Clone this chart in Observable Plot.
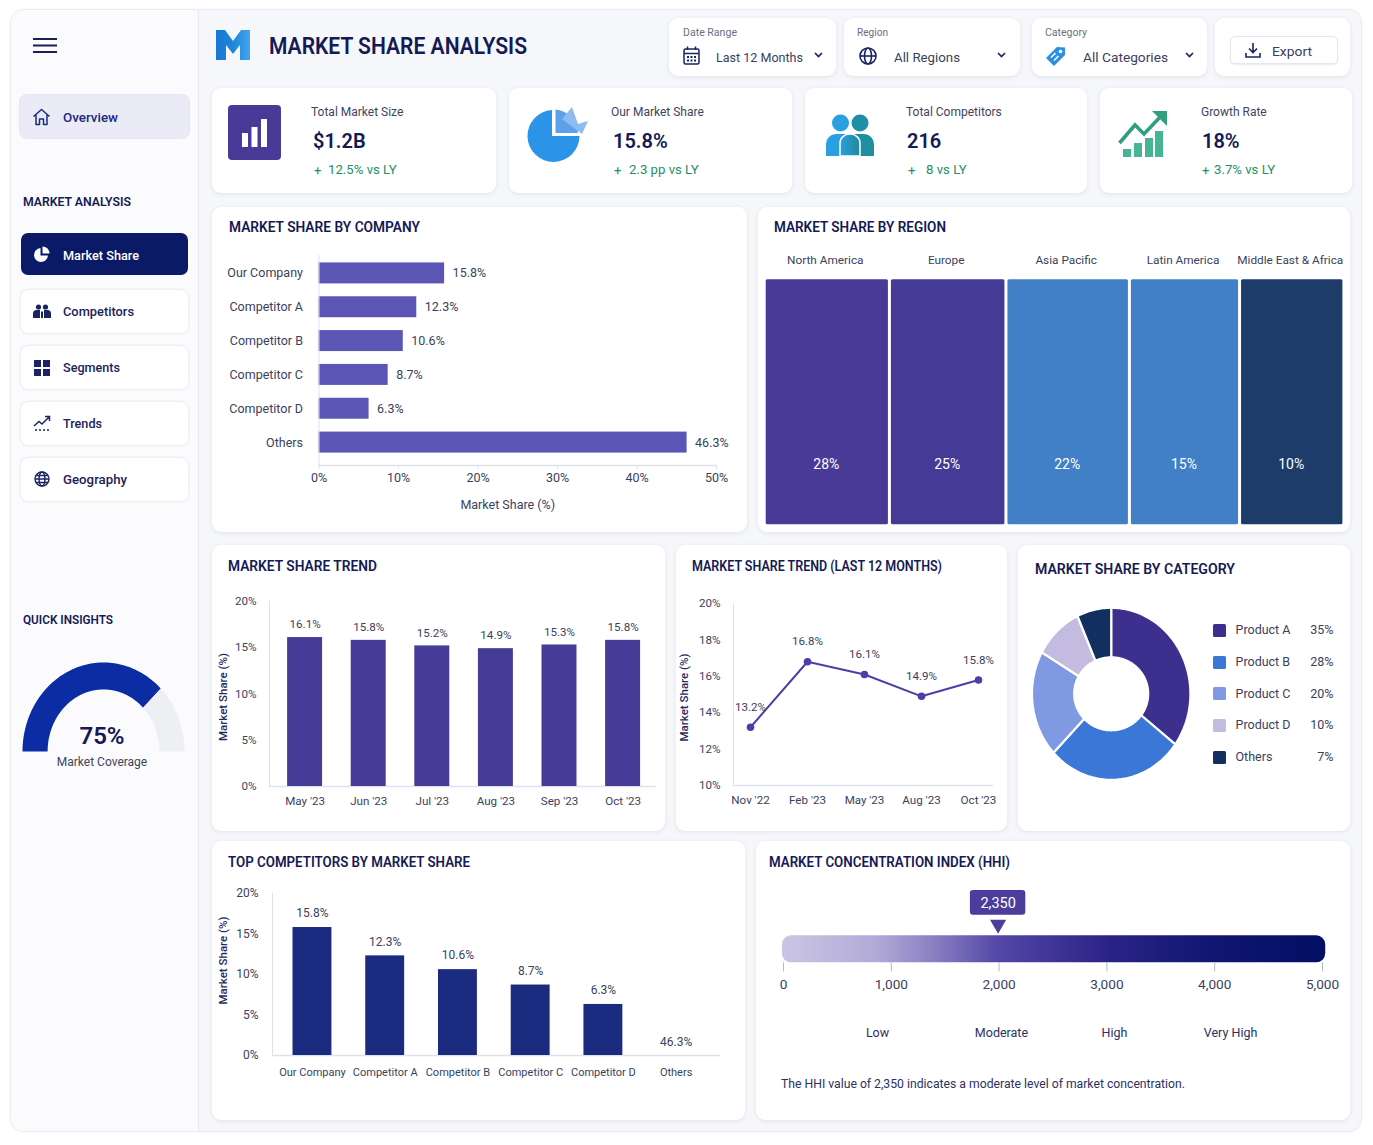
<!DOCTYPE html>
<html>
<head>
<meta charset="utf-8">
<script src="https://cdn.jsdelivr.net/npm/d3@7"></script>
<script src="https://cdn.jsdelivr.net/npm/@observablehq/plot@0.6"></script>
<style>
html,body{margin:0;padding:0;background:#fff;}
#root{position:relative;width:1373px;height:1145px;overflow:hidden;font-family:Roboto,sans-serif;color:#3a3f5e;}
.box{position:absolute;box-sizing:border-box;}
.card{position:absolute;box-sizing:border-box;background:#fff;border-radius:9px;box-shadow:0 1px 4px rgba(35,45,100,.10);}
.t{position:absolute;white-space:nowrap;line-height:1;}
#root svg.ic{position:absolute;overflow:visible;}
#root svg.plot{position:absolute;overflow:visible;background:transparent;}
</style>
</head>
<body>
<svg width="0" height="0" style="position:absolute">
  <defs>
    <linearGradient id="hhiGrad" x1="0" x2="1" y1="0" y2="0">
      <stop offset="0" stop-color="#cbc5e4"/>
      <stop offset=".17" stop-color="#b3abd8"/>
      <stop offset=".27" stop-color="#8d83c4"/>
      <stop offset=".4" stop-color="#5346a6"/>
      <stop offset=".6" stop-color="#2b2388"/>
      <stop offset=".8" stop-color="#0f1670"/>
      <stop offset="1" stop-color="#030f63"/>
    </linearGradient>
    <linearGradient id="logoL" x1="0" x2="1" y1="0" y2="0">
      <stop offset="0" stop-color="#1877d3"/><stop offset=".5" stop-color="#1f86dc"/><stop offset="1" stop-color="#45a5ee"/>
    </linearGradient>
    <linearGradient id="people" x1="0" x2="1" y1="0" y2="0">
      <stop offset="0" stop-color="#2a9fe2"/><stop offset="1" stop-color="#1e8a96"/>
    </linearGradient>
  </defs>
</svg>
<div id="root"></div>
<script>
// ---------- chart values ----------
const companyNames = ["Our Company","Competitor A","Competitor B","Competitor C","Competitor D","Others"];
const companyShares = [15.8,12.3,10.6,8.7,6.3,46.3];
const regionNames = ["North America","Europe","Asia Pacific","Latin America","Middle East & Africa"];
const regionShares = [28,25,22,15,10];
const regionSpans = [21.6,20.1,21.3,19.0,18.0]; // column width as % of the strip
const trendMonths = ["May '23","Jun '23","Jul '23","Aug '23","Sep '23","Oct '23"];
const trendShares = [16.1,15.8,15.2,14.9,15.3,15.8];
const lineMonths = ["Nov '22","Feb '23","May '23","Aug '23","Oct '23"];
const lineShares = [13.2,16.8,16.1,14.9,15.8];
const categoryNames = ["Product A","Product B","Product C","Product D","Others"];
const categoryShares = [35,28,20,10,7];
const hhiValue = 2350;
const hhiMarkerAt = 2000;   // the reference's pointer sits on the 2,000 tick
const hhiTicks = [0,1000,2000,3000,4000,5000];
const hhiBands = ["Low","Moderate","High","Very High"];
const hhiBandAt = [872,2022,3070,4147];
const coverage = 75;
const kpiLabels = ["Total Market Size","Our Market Share","Total Competitors","Growth Rate"];
const kpiValues = ["$1.2B","15.8%","216","18%"];
const kpiDeltas = ["12.5% vs LY","2.3 pp vs LY","8 vs LY","3.7% vs LY"];
const navItems = ["Competitors","Segments","Trends","Geography"];

// ---------- palettes ----------
const regionPalette = ["#4a3a97","#453a96","#4180c6","#4180c6","#1e3c69"];
const categoryPalette = ["#3d2f8e","#3a77d6","#7f9ae2","#c4bce0","#11305f"];

// ---------- html helpers ----------
const root = document.getElementById("root");
const fits = [];
function T(x,y,text,o={}){
  const d=document.createElement("div");d.className="t";d.textContent=text;
  d.style.left=x+"px";d.style.top=y+"px";
  d.style.fontSize=(o.s||12.5)+"px";d.style.fontWeight=o.b||400;d.style.color=o.c||"#3a3f5e";
  if(o.f)d.style.fontFamily=o.f;
  const ax=o.a==="r"?-100:o.a==="c"?-50:0;
  d.style.transformOrigin=o.a==="r"?"right center":"left center";
  d.style.transform=`translate(${ax}%,-50%)`;
  root.appendChild(d);
  if(o.w)fits.push([d,o.w,ax]);
  return d;
}
function box(x,y,w,h,css,cls){
  const d=document.createElement("div");d.className=cls||"box";
  d.style.cssText=`left:${x}px;top:${y}px;width:${w}px;height:${h}px;${css||""}`;
  root.appendChild(d);return d;
}
const card=(x0,y0,x1,y1,css)=>box(x0,y0,x1-x0,y1-y0,css,"card");
function icon(x,y,w,h,vb,inner){
  const s=`<svg class="ic" xmlns="http://www.w3.org/2000/svg" style="left:${x}px;top:${y}px" width="${w}" height="${h}" viewBox="${vb}">${inner}</svg>`;
  root.insertAdjacentHTML("beforeend",s);
}
function place(plot,x,y){
  plot.setAttribute("class",(plot.getAttribute("class")||"")+" plot");
  plot.style.cssText+=`;position:absolute;left:${x}px;top:${y}px;max-width:none;height:${plot.getAttribute("height")}px;`;
  root.appendChild(plot);
}
const TITLE="#141a55", AXC="#dfe1ec", TXT="#3a3f5e";
const pStyle=(size)=>({fontFamily:"Roboto,sans-serif",fontSize:size+"px",color:TXT,background:"transparent",overflow:"visible"});
function titleT(x,y,text,w){T(x,y,text,{s:14.5,b:600,c:TITLE,w,f:"Roboto"});}

// ---------- shell ----------
box(10,9,1352,1123,"background:#f6f7fa;border-radius:14px;border:1px solid #ebecf2;box-shadow:0 0 3px rgba(30,40,90,.05);");
box(11,10,188,1121,"background:#fbfbfd;border-right:1px solid #e9eaf1;border-radius:13px 0 0 13px;");

// hamburger
icon(33,37,25,18,"0 0 25 18",`<g stroke="#1a1f55" stroke-width="2"><path d="M0 2H24M0 8.5H24M0 15H24"/></g>`);
// logo + title
icon(216,30,34,30,"0 0 34 30",`<path d="M0 0H9L17 11L25 0H34V30H24V15L17 24L10 15V30H0Z" fill="url(#logoL)"/>`);
T(269,46,"MARKET SHARE ANALYSIS",{s:23,b:600,c:TITLE,w:258,f:"Roboto"});

// sidebar nav
box(19,94,171,45,"background:#eaebf7;border-radius:8px;border:1px solid #e3e5f4;");
icon(32,108,19,18,"0 0 19 18",`<path d="M1.5 8.5L9.5 1.5L17.5 8.5M4 7V16.5H7.5V11H11.5V16.5H15V7" fill="none" stroke="#1c2a80" stroke-width="1.5" stroke-linejoin="round"/>`);
T(63,116.5,"Overview",{s:13,b:500,c:"#1c2a80",w:55});
T(23,201,"MARKET ANALYSIS",{s:13,b:600,c:TITLE,w:108,f:"Roboto"});
box(21,233,167,42,"background:#0b1a66;border-radius:7px;");
icon(33,246,17,17,"0 0 17 17",`<path d="M7.5 2A7 7 0 1 0 15 9.5H7.5Z" fill="#fff"/><path d="M9.5 0.5A7 7 0 0 1 16.5 7.5H9.5Z" fill="#fff"/>`);
T(63,254.5,"Market Share",{s:13,b:500,c:"#fff",w:76});
const navY=[311,367,423,479];
const navTextW=[71,57,39,64];
navItems.forEach((n,i)=>{
  box(21,navY[i]-21,167,42.5,"background:#fff;border-radius:7px;box-shadow:0 0 3px rgba(35,45,100,.16);");
  T(63,navY[i]-.5,n,{s:13,b:500,c:"#1c2259",w:navTextW[i]});
});
icon(33,304,18,15,"0 0 18 15",`<g fill="#1a2463"><circle cx="5.5" cy="3" r="2.6"/><circle cx="12.5" cy="3" r="2.6"/><path d="M0 14V9.5A3.5 3.5 0 0 1 3.5 6H7V14ZM8 14V7.5H10V14ZM11 14V6H14.5A3.5 3.5 0 0 1 18 9.5V14Z"/></g>`);
icon(34,360,16,16,"0 0 16 16",`<g fill="#1a2463"><rect width="7" height="7"/><rect x="9" width="7" height="7"/><rect y="9" width="7" height="7"/><rect x="9" y="9" width="7" height="7"/></g>`);
icon(33,415,18,16,"0 0 18 16",`<path d="M1 11L6 6.5L9 9L16 2M12 1.5H16.5V6" fill="none" stroke="#1a2463" stroke-width="1.5"/><path d="M2 15H17" stroke="#1a2463" stroke-width="1.7" stroke-dasharray="2 2"/>`);
icon(34,471,16,16,"0 0 16 16",`<g fill="none" stroke="#1a2463" stroke-width="1.4"><circle cx="8" cy="8" r="7"/><ellipse cx="8" cy="8" rx="3" ry="7"/><path d="M1 8H15M2 4.5H14M2 11.5H14"/></g>`);
T(23,619,"QUICK INSIGHTS",{s:13,b:600,c:TITLE,w:90,f:"Roboto"});

// filters
card(669,18,836,76);card(844,18,1020,76);card(1032,18,1207,76);card(1215,18,1350,76);
T(683,32,"Date Range",{s:11,c:"#6a6e85",w:54});T(857,32,"Region",{s:11,c:"#6a6e85",w:31});T(1045,32,"Category",{s:11,c:"#6a6e85",w:42});
T(716,56.5,"Last 12 Months",{s:13,c:"#3a3f5e",w:87});T(894,56.5,"All Regions",{s:13,c:"#3a3f5e",w:66});T(1083,56.5,"All Categories",{s:13,c:"#3a3f5e",w:85});
icon(683,46,17,19,"0 0 17 19",`<g fill="none" stroke="#1a2463" stroke-width="1.5"><rect x="1" y="3" width="15" height="15" rx="1.5"/><path d="M1 7.5H16M4.5 0.5V4M12.5 0.5V4"/></g><g fill="#1a2463"><rect x="4" y="10" width="2" height="2"/><rect x="7.5" y="10" width="2" height="2"/><rect x="11" y="10" width="2" height="2"/><rect x="4" y="13.5" width="2" height="2"/><rect x="7.5" y="13.5" width="2" height="2"/><rect x="11" y="13.5" width="2" height="2"/></g>`);
icon(859,47,18,18,"0 0 18 18",`<g fill="none" stroke="#1a2463" stroke-width="1.6"><circle cx="9" cy="9" r="8"/><ellipse cx="9" cy="9" rx="3.5" ry="8"/><path d="M1 9H17"/></g>`);
icon(1045,46,21,21,"0 0 21 21",`<path d="M12 1L20 1.5L20 9L9 20L1 12Z" fill="#2a8fe6" /><circle cx="15.5" cy="5.5" r="1.8" fill="#fff"/><path d="M6 11.5L10.5 7M9 14.5L13.5 10" stroke="#fff" stroke-width="1.6"/>`);
[[814,52],[997,52],[1185,52]].forEach(([x,y])=>icon(x,y,9,6,"0 0 9 6",`<path d="M1 1L4.5 4.5L8 1" fill="none" stroke="#1a2463" stroke-width="1.7"/>`));
box(1230,36,108,28,"background:#fff;border-radius:5px;border:1px solid #e6e7ef;box-shadow:0 1px 2px rgba(35,45,100,.1);");
icon(1245,42,16,16,"0 0 16 16",`<path d="M8 1V10M4 6.5L8 10.5L12 6.5M1 11V15H15V11" fill="none" stroke="#1a2463" stroke-width="1.6"/>`);
T(1272,51.5,"Export",{s:13.5,c:"#3a3f5e",w:40});

// KPI cards
const kpiX=[[212,496],[509,792],[805,1087],[1100,1352]];
kpiX.forEach(([a,b])=>card(a,88,b,193));
const kpiLabelX=[311,611,906,1201],kpiValX=[313,613,907,1202],kpiPlusX=[314,614,908,1202],kpiDeltaX=[328,629,926,1214];
kpiLabels.forEach((l,i)=>{
  T(kpiLabelX[i],112,l,{s:12,c:"#3f4460"});
  T(kpiValX[i],141,kpiValues[i],{s:20,b:600,c:TITLE});
  T(kpiPlusX[i],170,"+",{s:13,c:"#1f8f64"});
  T(kpiDeltaX[i],170,kpiDeltas[i],{s:13.2,c:"#1f8f64"});
});
icon(228,105,53,55,"0 0 53 55",`<rect width="53" height="55" rx="4" fill="#483a96"/><g fill="#fff"><rect x="14" y="28" width="6" height="14"/><rect x="23.5" y="22" width="6" height="20"/><rect x="33" y="14" width="6" height="28"/></g>`);
icon(526,106,64,56,"0 0 64 56",`<path d="M26 4A26 26 0 1 0 53.5 30H26Z" fill="#2b93e8"/><path d="M29.5 3.5A25 25 0 0 1 52 27H29.5Z" fill="#5ba2ea"/><path d="M36 13L46 1L52 18L62 15L56 28L48 22Z" fill="#8fbcf0"/>`);
icon(826,114,48,42,"0 0 48 42",`<circle cx="14.5" cy="9" r="8.5" fill="#2a9fe2"/><circle cx="34" cy="9" r="8.5" fill="#1f8ea6"/><path d="M0 42V30A10 10 0 0 1 10 20H20V42Z" fill="#2a9fe2"/><path d="M28 42V20H38A10 10 0 0 1 48 30V42Z" fill="#1f8ea0"/><path d="M14 42V29A10 9 0 0 1 24 20A10 9 0 0 1 34 29V42Z" fill="url(#people)" stroke="#fff" stroke-width="1.5"/>`);
icon(1118,110,50,47,"0 0 50 47",`<g fill="#46b594"><rect x="5" y="39" width="8" height="8"/><rect x="16" y="33" width="8" height="14"/><rect x="27" y="28" width="8" height="19"/><rect x="37" y="21" width="8" height="26"/></g><path d="M1.5 33L17 15L26 24L45 4" fill="none" stroke="#2f9f80" stroke-width="3.6"/><path d="M34 1H49V16Z" fill="#2f9f80"/>`);

// chart cards
card(212,207,747,532);card(758,207,1350,532);
card(212,545,665,831);card(676,545,1007,831);card(1018,545,1350,831);
card(212,841,745,1120);card(756,841,1350,1120);
titleT(229,227.5,"MARKET SHARE BY COMPANY",191);
titleT(774,227.5,"MARKET SHARE BY REGION",172);
titleT(228,567,"MARKET SHARE TREND",149);
titleT(692,567,"MARKET SHARE TREND (LAST 12 MONTHS)",250);
titleT(1035,570,"MARKET SHARE BY CATEGORY",200);
titleT(228,863,"TOP COMPETITORS BY MARKET SHARE",242);
titleT(769,863,"MARKET CONCENTRATION INDEX (HHI)",241);

// ---------- tables for the marks ----------
const companyData = companyNames.map((name,i)=>({name,share:companyShares[i]}));
const regionEdges = d3.cumsum(regionSpans);
const regionData = regionNames.map((name,i)=>({name,share:regionShares[i],x1:i?regionEdges[i-1]:0,x2:regionEdges[i]}));
const trendData = trendMonths.map((month,i)=>({month,share:trendShares[i]}));
const lineData = lineMonths.map((month,i)=>({month,share:lineShares[i]}));
const competitorData = companyData;
const pct = d=>d+"%";

// ---------- Market share by company ----------
place(Plot.plot({
  width:535,height:325,marginLeft:106.5,marginRight:31,marginTop:48,marginBottom:67,style:pStyle(12.5),
  x:{domain:[0,50],axis:null},
  y:{domain:companyNames,range:[49,252],paddingInner:.38,paddingOuter:.19,round:false,axis:null},
  marks:[
    Plot.barX(companyData,{x:"share",y:"name",fill:"#5b55b5"}),
    Plot.text(companyData,{x:"share",y:"name",text:d=>d.share+"%",dx:8,textAnchor:"start"}),
    Plot.axisY({tickSize:0,tickPadding:16,label:null}),
    Plot.frame({anchor:"left",stroke:AXC}),
    Plot.frame({anchor:"bottom",stroke:AXC,strokeWidth:1.4}),
    Plot.axisX({ticks:[0,10,20,30,40,50],tickFormat:pct,tickSize:4,tickPadding:4,label:null,stroke:AXC,fill:TXT}),
    Plot.text(["Market Share (%)"],{frameAnchor:"bottom",lineAnchor:"middle",dy:39,dx:-10})
  ]
}),212,207);

// ---------- Market share by region ----------
place(Plot.plot({
  width:592,height:325,marginLeft:6.2,marginRight:6.1,marginTop:72.3,marginBottom:7.7,style:pStyle(11.8),
  x:{domain:[0,100],axis:null},
  color:{domain:regionNames,range:regionPalette},
  marks:[
    Plot.rect(regionData,{x1:"x1",x2:"x2",fill:"name",insetLeft:1.5,insetRight:1.5,rx:1.5}),
    Plot.text(regionData,{x:d=>(d.x1+d.x2)/2,text:"name",frameAnchor:"top",lineAnchor:"middle",dx:-2,dy:-19.6}),
    Plot.text(regionData,{x:d=>(d.x1+d.x2)/2,text:d=>d.share+"%",frameAnchor:"top",lineAnchor:"middle",dx:-1,dy:185,fontSize:14,fontWeight:400,fill:"#fff"})
  ]
}),758,207);

// ---------- Market share trend ----------
place(Plot.plot({
  width:453,height:286,marginLeft:57,marginRight:10,marginTop:56,marginBottom:45,style:pStyle(11.6),
  x:{domain:trendMonths,range:[60.8,442.4],paddingInner:.45,paddingOuter:.225,round:false,tickSize:0,tickPadding:10,label:null},
  y:{domain:[0,20],ticks:[0,5,10,15,20],tickFormat:pct,tickSize:0,tickPadding:13,label:null},
  marks:[
    Plot.frame({anchor:"left",stroke:AXC}),
    Plot.frame({anchor:"bottom",stroke:AXC,strokeWidth:1.4}),
    Plot.barY(trendData,{x:"month",y:"share",fill:"#463b97"}),
    Plot.text(trendData,{x:"month",y:"share",text:d=>d.share+"%",dy:-13}),
    Plot.text(["Market Share (%)"],{frameAnchor:"left",textAnchor:"middle",rotate:-90,dx:-46,dy:3,fontSize:11.5,fontWeight:500,fill:"#1f2a5e"})
  ]
}),212,545);

// ---------- Market share trend, last 12 months ----------
place(Plot.plot({
  width:331,height:286,marginLeft:57,marginRight:15,marginTop:58,marginBottom:46,style:pStyle(11.6),
  x:{type:"point",domain:lineMonths,range:[73,303],padding:0,tickSize:0,tickPadding:10,label:null},
  y:{domain:[10,20],ticks:[10,12,14,16,18,20],tickFormat:pct,tickSize:0,tickPadding:13,label:null},
  marks:[
    Plot.frame({anchor:"left",stroke:AXC}),
    Plot.frame({anchor:"bottom",stroke:AXC,strokeWidth:1.4}),
    Plot.line(lineData,{x:"month",y:"share",stroke:"#4a3fa8",strokeWidth:2}),
    Plot.dot(lineData,{x:"month",y:"share",r:3.8,fill:"#4a3fa8"}),
    Plot.text(lineData,{x:"month",y:"share",text:d=>d.share+"%",dy:-20}),
    Plot.text(["Market Share (%)"],{frameAnchor:"left",textAnchor:"middle",rotate:-90,dx:-49,dy:3,fontSize:11.5,fontWeight:500,fill:"#1f2a5e"})
  ]
}),676,545);

// ---------- slices: polygons on the plot's own x/y scales ----------
function ring(names,values,from,sweep,inX,inY){
  const total=d3.sum(values),pts=[];let a=from;
  names.forEach((name,i)=>{
    const b=a+sweep*values[i]/total,n=Math.max(2,Math.ceil(Math.abs(b-a)/1.5)),rad=Math.PI/180;
    const arc=d3.range(n+1).map(k=>a+(b-a)*k/n);
    arc.forEach(t=>pts.push({name,x:Math.sin(t*rad),y:Math.cos(t*rad)}));
    arc.reverse().forEach(t=>pts.push({name,x:inX*Math.sin(t*rad),y:inY*Math.cos(t*rad)}));
    pts.push({name,x:Math.sin(a*rad),y:Math.cos(a*rad)});
    a=b;
  });
  return pts;
}

// ---------- Market share by category ----------
place(Plot.plot({
  width:332,height:286,margin:0,style:pStyle(12),
  x:{domain:[-1,1],range:[13.5,171.9],axis:null},
  y:{domain:[-1,1],range:[234.3,62.3],axis:null},
  color:{domain:categoryNames,range:categoryPalette},
  marks:[Plot.line(ring(categoryNames,categoryShares,0,360,37/79.2,36.5/86),{x:"x",y:"y",z:"name",fill:"name",stroke:"#fff",strokeWidth:2.2,curve:"linear"})]
}),1018,545);
const legendY=[630,662,693.5,725,757];
const legendC=d3.scaleOrdinal(categoryNames,categoryPalette);
categoryNames.forEach((n,i)=>{
  box(1212.5,legendY[i]-6.5,13,13,`background:${legendC(n)};border-radius:1.5px;`);
  T(1235.5,legendY[i],n,{s:12.5});
  T(1333.5,legendY[i],categoryShares[i]+"%",{s:12.5,a:"r"});
});

// ---------- Top competitors ----------
place(Plot.plot({
  width:533,height:279,marginLeft:60,marginRight:26,marginTop:52,marginBottom:65,style:pStyle(12),
  x:{domain:companyNames,range:[63.6,500],paddingInner:.465,paddingOuter:.2325,round:false,axis:null},
  y:{domain:[0,20],ticks:[0,5,10,15,20],tickFormat:pct,tickSize:0,tickPadding:14,label:null},
  marks:[
    Plot.frame({anchor:"left",stroke:AXC}),
    Plot.frame({anchor:"bottom",stroke:AXC,strokeWidth:1.4}),
    Plot.barY(competitorData.filter(d=>d.share<=20),{x:"name",y:"share",fill:"#1a2b80"}),
    Plot.text(competitorData.filter(d=>d.share<=20),{x:"name",y:"share",text:d=>d.share+"%",dy:-14}),
    Plot.text(competitorData.filter(d=>d.share>20),{x:"name",frameAnchor:"bottom",lineAnchor:"middle",text:d=>d.share+"%",dy:-13.5}),
    Plot.axisX({tickSize:0,tickPadding:13,label:null,fontSize:11}),
    Plot.text(["Market Share (%)"],{frameAnchor:"left",textAnchor:"middle",rotate:-90,dx:-49,dy:-14,fontSize:11.5,fontWeight:500,fill:"#1f2a5e"})
  ]
}),212,841);

// ---------- HHI ----------
const hhiFmt = d3.format(",");
place(Plot.plot({
  width:594,height:279,marginLeft:27,marginRight:28,marginTop:94.3,marginBottom:157.7,style:pStyle(12.5),
  x:{domain:[0,5000],axis:null},
  marks:[
    Plot.rect([0],{x1:()=>-10,x2:()=>5030,fill:"url(#hhiGrad)",rx:9,ry:9}),
    Plot.axisX({ticks:hhiTicks,tickFormat:hhiFmt,tickSize:9,tickPadding:8,label:null,stroke:"#b4b9d2",fill:TXT,fontSize:13.6}),
    Plot.rect([0],{x1:()=>hhiMarkerAt-257,x2:()=>hhiMarkerAt+257,dx:-1,dy:-45.3,insetBottom:2.3,fill:"#4a3d9c",rx:3,ry:3}),
    Plot.text([hhiValue],{x:()=>hhiMarkerAt,text:d=>hhiFmt(d),frameAnchor:"top",lineAnchor:"middle",dx:-1,dy:-32.5,fill:"#fff",fontSize:14.5}),
    Plot.dot([hhiValue],{x:()=>hhiMarkerAt,frameAnchor:"top",dx:-1,dy:-11.5,symbol:"triangle",rotate:180,r:6,fill:"#4a3d9c"}),
    Plot.text(hhiBands,{x:(d,i)=>hhiBandAt[i],frameAnchor:"bottom",lineAnchor:"middle",dy:70.4,fill:"#2c3160"})
  ]
}),756,841);
T(781,1084,`The HHI value of ${hhiFmt(hhiValue)} indicates a moderate level of market concentration.`,{s:12.5,c:"#2c3160",w:404});

// ---------- Gauge ----------
place(Plot.plot({
  width:190,height:110,margin:0,style:pStyle(12),
  x:{domain:[-1,1],range:[12,174],axis:null},
  y:{domain:[0,1],range:[101,12],axis:null},
  color:{domain:["Covered","Remaining"],range:["#0b2ca2","#eeeff3"]},
  marks:[Plot.line(ring(["Covered","Remaining"],[coverage,100-coverage],-90,180,.69,.697),{x:"x",y:"y",z:"name",fill:"name",curve:"linear"})]
}),10,650);
T(102,736,coverage+"%",{s:24,b:600,c:TITLE,a:"c"});
T(102,762,"Market Coverage",{s:12,c:"#3f4460",a:"c"});

// ---------- fit condensed headings to their measured width ----------
function applyFits(){
  fits.forEach(([d,w,ax])=>{
    d.style.transform=`translate(${ax}%,-50%)`;
    const k=w/d.getBoundingClientRect().width;
    d.style.transform=`translate(${ax}%,-50%) scaleX(${k})`;
  });
}
applyFits();
if(document.fonts&&document.fonts.ready)document.fonts.ready.then(applyFits);
</script>
</body>
</html>
